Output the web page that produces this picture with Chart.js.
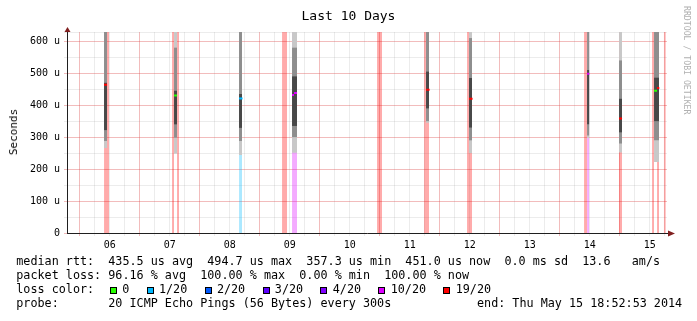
<!DOCTYPE html>
<html>
<head>
<meta charset="utf-8">
<title>Last 10 Days</title>
<script src="https://cdn.jsdelivr.net/npm/chart.js@4.4.1/dist/chart.umd.min.js"></script>
<style>
  body { margin: 0; background: #fff; }
  #graph { position: relative; width: 697px; height: 321px; overflow: hidden; font-family: "DejaVu Sans Mono", monospace; color: #000; }
  #graph canvas { position: absolute; left: 0; top: 0; }
  .txt { position: absolute; white-space: pre; font-size: 11.75px; line-height: 14px; }
  .box { position: absolute; width: 5px; height: 5px; border: 1px solid #000; }
  #title { position: absolute; left: 0; top: 8px; width: 697px; text-align: center; font-size: 13px; line-height: 16px; white-space: pre; }
  #ylabel { position: absolute; left: 14px; top: 132px; font-size: 11px; line-height: 12px; white-space: pre; color: #000; transform: translate(-50%, -50%) rotate(-90deg); }
  #credit { position: absolute; left: 683px; top: 6px; writing-mode: vertical-rl; font-size: 8.2px; line-height: 7px; color: #b0b0b0; white-space: pre; }
</style>
</head>
<body>
<div id="graph">
  <canvas id="chart" width="697" height="321"></canvas>
  <div id="title">Last 10 Days</div>
  <div id="ylabel">Seconds</div>
  <div id="credit">RRDTOOL / TOBI OETIKER</div>
  <div class="txt" style="left:16.3px;top:254px">median rtt:  435.5 us avg  494.7 us max  357.3 us min  451.0 us now  0.0 ms sd  13.6   am/s</div>
  <div class="txt" style="left:16.3px;top:268px">packet loss: 96.16 % avg  100.00 % max  0.00 % min  100.00 % now</div>
  <div class="txt" style="left:16.3px;top:282px">loss color:</div>
  <div class="txt" style="left:16.3px;top:296px">probe:       20 ICMP Echo Pings (56 Bytes) every 300s</div>
  <div class="txt" style="left:477px;top:296px">end: Thu May 15 18:52:53 2014</div>
</div>
<script>
// x = hours after May 6 00:00, y = microseconds
const xStart = -5.119, xEnd = 234.881;
const yMax = 629;
const dayLabels = ['06', '07', '08', '09', '10', '11', '12', '13', '14', '15'];
const yMajor = [0, 100, 200, 300, 400, 500, 600];
const yMajorLabels = ['0', '100 u', '200 u', '300 u', '400 u', '500 u', '600 u'];
const yMinor = [50, 150, 250, 350, 450, 550, 629];

// loss colours (lost pings out of 20)
const legendPings = [0, 1, 2, 3, 4, 10, 19];
const legendLabels = ['0', '1/20', '2/20', '3/20', '4/20', '10/20', '19/20'];
const legendColors = ['#26ff00', '#00b8ff', '#0059ff', '#5e00ff', '#7e00ff', '#dd00ff', '#ff0000'];

// loss background bars
const lossFrom  = [9.7, 36.9, 38.9, 63.7, 80.9, 84.9, 118.9, 137.7, 154.9, 201.7, 202.9, 215.7, 228.9, 230.9, 233.6];
const lossTo    = [11.7, 37.7, 39.7, 64.9, 82.9, 86.9, 120.9, 139.7, 156.9, 202.9, 203.8, 216.9, 229.7, 231.7, 234.4];
const lossPings = [19, 19, 19, 1, 19, 10, 19, 19, 19, 19, 10, 19, 19, 19, 19];

// smoke (rtt spread)
const smokeFrom = [9.7, 37.7, 63.7, 84.9, 138.5, 155.7, 202.9, 215.7, 229.7];
const smokeTo   = [10.9, 38.9, 64.9, 86.9, 139.7, 156.9, 203.8, 216.9, 231.7];
const smokeMin  = [266, 248, 244, 251, 345, 250, 297, 252, 222];
const smokeLo   = [288, 298, 288, 300, 350, 290, 305, 280, 290];
const smokeQ1   = [322, 340, 329, 335, 390, 330, 340, 315, 350];
const smokeQ3   = [470, 445, 435, 490, 505, 485, 510, 420, 486];
const smokeHi   = [700, 580, 700, 580, 700, 610, 700, 540, 700];
const smokeMax  = [700, 700, 700, 700, 700, 700, 700, 700, 700];

// median rtt
const medFrom = [9.7, 37.7, 63.7, 84.9, 85.7, 138.5, 155.7, 202.9, 215.7, 229.7, 230.9];
const medTo   = [10.9, 38.9, 65.1, 85.7, 86.9, 139.9, 157.1, 203.8, 216.9, 230.9, 231.8];
const medRtt  = [464, 430, 421, 432, 438, 448, 420, 498, 358, 445, 454];
const medLoss = [19, 0, 1, 10, 10, 19, 19, 10, 19, 0, 19];

const minorGrid = 'rgba(143,143,143,0.17)';
const majorGrid = 'rgba(222,79,79,0.38)';
const axisColor = '#1f1f1f';
const arrowColor = '#801f1f';

function lossColor(p) { return legendColors[legendPings.indexOf(p)]; }
function lossBg(p) {
  const c = lossColor(p);
  const r = parseInt(c.slice(1, 3), 16), g = parseInt(c.slice(3, 5), 16), b = parseInt(c.slice(5, 7), 16);
  return 'rgba(' + r + ',' + g + ',' + b + ',0.33)';
}

function strips(from, to, val) {
  let pts = [];
  for (let i = 0; i < from.length; i++) {
    pts.push({x: from[i], y: val[i]}, {x: to[i], y: val[i]}, {x: to[i], y: null});
  }
  return pts;
}
function pick(arr, idx) { return idx.map(i => arr[i]); }

const hidden = {borderWidth: 0, borderColor: 'rgba(0,0,0,0)', pointRadius: 0, pointHoverRadius: 0};
let datasets = [];

// loss bars, one dataset per loss level
[...new Set(lossPings)].forEach(p => {
  let idx = lossPings.map((v, i) => v === p ? i : -1).filter(i => i >= 0);
  datasets.push(Object.assign({
    data: strips(pick(lossFrom, idx), pick(lossTo, idx), idx.map(() => yMax)),
    fill: 'origin', backgroundColor: lossBg(p), order: 10
  }, hidden));
});

function band(lo, hi, color, order) {
  datasets.push(Object.assign({data: strips(smokeFrom, smokeTo, lo), fill: false, order: order}, hidden));
  datasets.push(Object.assign({data: strips(smokeFrom, smokeTo, hi), fill: '-1', backgroundColor: color, order: order}, hidden));
}
band(smokeMin, smokeMax, '#c8c8c8', 6);
band(smokeLo, smokeHi, '#8e8e8e', 5);
band(smokeQ1, smokeQ3, '#484848', 4);

[...new Set(medLoss)].forEach(p => {
  let idx = medLoss.map((v, i) => v === p ? i : -1).filter(i => i >= 0);
  datasets.push({
    data: strips(pick(medFrom, idx), pick(medTo, idx), pick(medRtt, idx)),
    borderColor: lossColor(p), borderWidth: 2, borderCapStyle: 'butt',
    pointRadius: 0, pointHoverRadius: 0, fill: false, order: 1
  });
});

// loss colour legend
let lx = 110;
const graph = document.getElementById('graph');
legendLabels.forEach((lab, i) => {
  let b = document.createElement('div');
  b.className = 'box';
  b.style.left = lx + 'px';
  b.style.top = '286.5px';
  b.style.background = legendColors[i];
  graph.appendChild(b);
  let t = document.createElement('div');
  t.className = 'txt';
  t.style.left = (lx + 12.3) + 'px';
  t.style.top = '282px';
  t.textContent = lab;
  graph.appendChild(t);
  lx = lx + 12.6 + lab.length * 7.08 + 17;
});

const arrows = {
  id: 'arrows',
  afterDraw(chart) {
    const ctx = chart.ctx, a = chart.chartArea;
    ctx.save();
    ctx.strokeStyle = axisColor;
    ctx.lineWidth = 1;
    ctx.beginPath();
    ctx.moveTo(a.right, 233.5);
    ctx.lineTo(a.right + 2, 233.5);
    ctx.stroke();
    ctx.fillStyle = arrowColor;
    ctx.beginPath();
    ctx.moveTo(a.left - 2.5, a.top);
    ctx.lineTo(a.left + 3.5, a.top);
    ctx.lineTo(a.left + 0.5, a.top - 5);
    ctx.fill();
    ctx.beginPath();
    ctx.moveTo(a.right + 1, a.bottom - 2.5);
    ctx.lineTo(a.right + 1, a.bottom + 3.5);
    ctx.lineTo(a.right + 8, a.bottom + 0.5);
    ctx.fill();
    ctx.restore();
  }
};

Chart.defaults.font.family = '"DejaVu Sans Mono", monospace';
Chart.defaults.color = '#000';

new Chart(document.getElementById('chart'), {
  type: 'line',
  data: {datasets: datasets},
  options: {
    responsive: false,
    devicePixelRatio: 1,
    animation: false,
    events: [],
    layout: {padding: {left: 0, top: 32, right: 30, bottom: 68}},
    plugins: {legend: {display: false}, tooltip: {enabled: false}, title: {display: false}},
    scales: {
      x: {
        type: 'linear', min: xStart, max: xEnd, z: 1,
        afterBuildTicks: s => {
          let t = [];
          for (let h = 0; h <= xEnd; h += 6) t.push({value: h});
          s.ticks = t;
        },
        afterFit: s => { s.height = 20; },
        grid: {
          color: c => (c.tick && c.tick.value % 24 === 0) ? majorGrid : minorGrid,
          tickLength: 3, lineWidth: 1
        },
        border: {color: axisColor, width: 1},
        ticks: {
          autoSkip: false, maxRotation: 0, minRotation: 0, padding: 3,
          font: {size: 10},
          callback: v => (v % 24 === 12) ? dayLabels[(v - 12) / 24] : ''
        }
      },
      y: {
        type: 'linear', min: 0, max: yMax, z: 1,
        afterBuildTicks: s => {
          s.ticks = yMajor.concat(yMinor).sort((a, b) => a - b).map(v => ({value: v}));
        },
        afterFit: s => { s.width = 67; },
        grid: {
          color: c => (c.tick && yMajor.indexOf(c.tick.value) >= 0) ? majorGrid : minorGrid,
          tickLength: 3, lineWidth: 1
        },
        border: {color: axisColor, width: 1},
        ticks: {
          autoSkip: false, padding: 4,
          font: {size: 10},
          callback: v => { let i = yMajor.indexOf(v); return i >= 0 ? yMajorLabels[i] : ''; }
        }
      }
    }
  },
  plugins: [arrows]
});
</script>
</body>
</html>
